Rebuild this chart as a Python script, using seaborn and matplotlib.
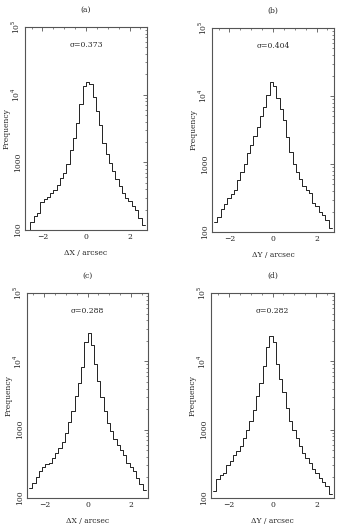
import numpy as np
import pandas as pd
import matplotlib
matplotlib.use("Agg")
import matplotlib.pyplot as plt
import seaborn as sns
from matplotlib.ticker import FixedLocator, FixedFormatter, LogLocator, NullFormatter, MultipleLocator

sns.set_theme(style="white")
plt.rcParams['font.family'] = ['DejaVu Serif']

# bin edges / centers (arcsec)
bin_edges = [round(-2.7 + 0.15 * i, 3) for i in range(37)]
bin_centers = [round(-2.625 + 0.15 * i, 3) for i in range(36)]

counts_a = [100, 130, 160, 180, 260, 290, 310, 350, 390, 470, 590, 700, 950, 1500, 2300, 3800,
            7400, 13500, 15500, 14500, 9300, 5800, 3600, 1900, 1350, 980, 740, 560, 450, 350,
            300, 265, 225, 200, 150, 120]
counts_b = [140, 165, 220, 260, 320, 360, 420, 580, 750, 1000, 1450, 1900, 2600, 3500, 5000, 7000,
            10500, 16300, 14000, 9500, 6500, 4500, 2500, 1500, 1000, 760, 610, 480, 410, 370,
            270, 240, 200, 175, 150, 115]
counts_c = [140, 165, 205, 250, 280, 310, 330, 390, 450, 540, 650, 900, 1300, 1900, 3100, 4800,
            8200, 19000, 25800, 17500, 9000, 5200, 3000, 1900, 1250, 950, 720, 600, 500, 420,
            330, 280, 250, 195, 160, 130]
counts_d = [125, 190, 220, 230, 300, 350, 420, 480, 580, 760, 1000, 1350, 1950, 3100, 4800, 8500,
            16000, 23600, 19000, 9000, 5500, 3500, 2100, 1350, 1000, 760, 580, 460, 380, 320,
            270, 230, 195, 170, 150, 115]

panel_titles = ["(a)", "(b)", "(c)", "(d)"]
sigma_texts = ["σ=0.373", "σ=0.404", "σ=0.288", "σ=0.282"]
x_labels = ["ΔX / arcsec", "ΔY / arcsec", "ΔX / arcsec", "ΔY / arcsec"]
y_label = "Frequency"
x_ticks = [-2, 0, 2]
x_ticklabels = ["−2", "0", "2"]
y_ticks = [100, 1000, 1e4, 1e5]
y_ticklabels = ["100", "1000", "10$^4$", "10$^5$"]

W, H = 343, 528
fig = plt.figure(figsize=(W / 100, H / 100), dpi=100)

# axes boxes in pixels: left, top, right, bottom
boxes = [(25, 27, 147, 230), (212, 28, 334, 232), (27, 293, 148, 498), (211, 293, 334, 498)]
all_counts = [counts_a, counts_b, counts_c, counts_d]

for i, (box, counts) in enumerate(zip(boxes, all_counts)):
    l, t, r, b = box
    ax = fig.add_axes([l / W, 1 - b / H, (r - l) / W, (b - t) / H])
    df = pd.DataFrame({"x": bin_centers, "n": counts})
    sns.histplot(data=df, x="x", weights="n", bins=bin_edges, element="step",
                 fill=False, color="#222222", linewidth=0.7, ax=ax)
    ax.set_yscale("log")
    ax.set_ylim(100, 1e5)
    ax.set_xlim(-2.8, 2.8)
    ax.set_xticks(x_ticks)
    ax.set_xticklabels(x_ticklabels)
    ax.xaxis.set_minor_locator(MultipleLocator(0.5))
    ax.yaxis.set_major_locator(FixedLocator(y_ticks))
    ax.yaxis.set_major_formatter(FixedFormatter(y_ticklabels))
    ax.yaxis.set_minor_locator(LogLocator(base=10, subs=np.arange(2, 10)))
    ax.yaxis.set_minor_formatter(NullFormatter())
    for lab in ax.get_yticklabels():
        lab.set_rotation(90)
        lab.set_va("center")
    ax.tick_params(which="both", direction="in", top=True, right=True, labelsize=5.5,
                   color="#555555", pad=2)
    ax.tick_params(which="major", length=3, width=0.6)
    ax.tick_params(which="minor", length=1.5, width=0.5)
    for sp in ax.spines.values():
        sp.set_color("#555555")
        sp.set_linewidth(0.8)
    ax.set_xlabel(x_labels[i], fontsize=5.5, labelpad=6)
    ax.set_ylabel(y_label, fontsize=5.5, va="center")
    ax.yaxis.set_label_coords(-18.0 / (r - l), 0.5)
    ax.set_title(panel_titles[i], fontsize=5.5, pad=11)
    ax.text(0.5, 0.91, sigma_texts[i], transform=ax.transAxes, ha="center", va="center",
            fontsize=5.5)

fig.savefig("out.png", dpi=100)
